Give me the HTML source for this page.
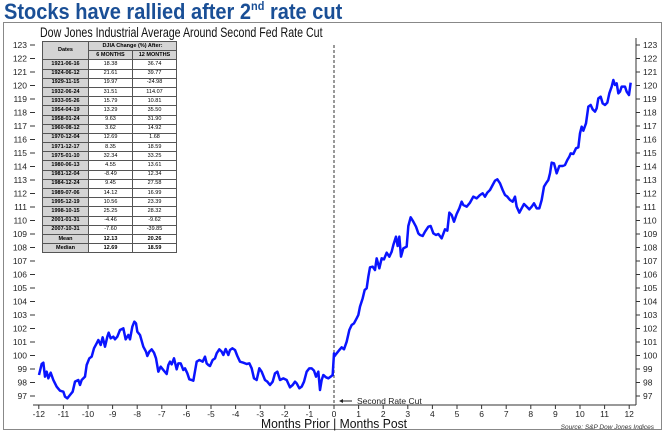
<!DOCTYPE html>
<html><head><meta charset="utf-8"><style>
body{margin:0;width:666px;height:433px;background:#fff;overflow:hidden;font-family:"Liberation Sans",sans-serif;position:relative}
.t{position:absolute;left:4px;top:-1px;font-size:22px;font-weight:bold;color:#1a4f96;white-space:nowrap;transform:scaleX(0.91);transform-origin:0 0}
.t sup{font-size:12px;vertical-align:9px}
.box{position:absolute;left:3px;top:22px;width:657px;height:406px;border:1px solid #888}
.st{position:absolute;left:40px;top:24px;font-size:14px;color:#111;white-space:nowrap;transform:scaleX(0.76);transform-origin:0 0}
table{position:absolute;left:42px;top:41px;border-collapse:collapse;font-size:5.5px;font-weight:bold;background:#fff}
td{border:1px solid #555;height:8.2px;padding:0;text-align:center;line-height:7px;font-weight:normal}
td.d{background:#d4d4d4;font-weight:bold;width:45px}
td.h{background:#d4d4d4;font-weight:bold}
td.v{width:43px}
tr.b td{font-weight:bold}
</style></head><body>
<div class="t">Stocks have rallied after 2<sup>nd</sup> rate cut</div>
<div class="box"></div>
<div class="st">Dow Jones Industrial Average Around Second Fed Rate Cut</div>
<svg width="666" height="433" style="position:absolute;left:0;top:0" font-family="Liberation Sans, sans-serif">
<g stroke="#333" stroke-width="1">
<line x1="636" y1="38" x2="636" y2="405"/>
<line x1="33" y1="405" x2="636" y2="405"/>
<line x1="334" y1="45" x2="334" y2="405" stroke-dasharray="3,2"/>
</g>
<g id="ticks" stroke="#333" stroke-width="1"></g>
<g id="labs" font-size="8.5" fill="#222"></g>
<g transform="translate(30,300) scale(0.33333)" fill="none" stroke="#0a14ff" stroke-width="7.5" stroke-linejoin="round">
<polyline points="27,225 35,192 40,188 45,230 50,215 55,235 62,218 70,240 80,260 90,272 100,275 105,290 112,295 120,285 128,275 135,245 145,240 150,255 155,240 165,230 170,195 178,175 185,170 192,145 200,130 205,120 212,135 218,112 225,140 232,110 236,98 242,115 250,110 255,118 262,110 270,90 280,85 287,118 295,105 300,118 307,80 313,65 318,70 322,95 330,105 340,140 348,155 352,168 358,155 365,148 372,158 378,175 385,215 392,200 400,210 410,222 415,195 420,185 425,193 432,175 440,208 445,190 452,190 460,210 465,205 472,220 478,238 485,240 490,242 500,185 508,180 518,185 525,170 530,190 535,195 540,198 548,180 555,175 560,160 568,148 575,155 580,165 587,147 595,165 600,150 607,145 615,150 622,168 630,185 640,188 650,192 658,190 665,205 672,235 680,240 688,205 695,215 705,240 712,245 720,255 728,245 735,220 742,215 750,240 760,235 770,240 780,262 788,255 795,245 800,250 808,265 815,260 822,245 830,215 838,205 845,205 852,212 858,230 865,215 870,270 875,240 880,225 888,232 895,235 902,230 908,225 912,160 915,170"/>
</g>
<g transform="translate(330,60) scale(0.33333)" fill="none" stroke="#0a14ff" stroke-width="7.5" stroke-linejoin="round">
<polyline points="12,890 20,880 28,870 35,862 42,868 50,845 58,810 65,795 72,790 80,775 85,765 90,740 98,715 104,690 110,685 115,650 120,622 128,620 135,630 140,595 148,625 155,595 162,598 170,578 178,590 185,575 190,555 198,530 203,558 208,530 213,590 220,565 230,560 235,498 242,472 250,485 258,500 265,520 270,525 278,528 285,515 295,500 302,498 310,520 318,525 325,522 335,535 345,508 352,512 358,458 365,465 372,485 380,462 388,445 395,425 400,435 410,440 420,428 430,410 440,415 450,405 458,400 465,410 472,398 480,390 488,375 495,362 502,358 510,370 518,390 525,405 532,410 540,420 548,425 555,410 560,440 568,458 575,445 582,432 590,440 598,448 605,440 612,430 620,445 628,445 635,420 642,380 648,370 655,360 660,340 665,308 672,310 680,340 688,318 698,318 705,315 712,300 718,290 722,280 730,282 738,265 745,262 750,220 755,200 760,212 768,190 775,140 782,135 788,148 795,155 800,145 805,115 812,110 818,130 825,135 832,128 838,100 845,80 850,60 855,75 860,70 865,100 870,95 875,80 885,80 890,95 897,105 902,68"/>
</g>
<line x1="341" y1="401" x2="352" y2="401" stroke="#222" stroke-width="1"/>
<polygon points="339,401 343,399 343,403" fill="#222"/>
<text x="357" y="404" font-size="8.5" fill="#222">Second Rate Cut</text>
<text x="334" y="428" font-size="13" fill="#111" text-anchor="middle" textLength="146" lengthAdjust="spacingAndGlyphs">Months Prior | Months Post</text>
<text x="654" y="429" font-size="6.5" fill="#333" font-style="italic" text-anchor="end">Source: S&amp;P Dow Jones Indices</text>
</svg>
<table>
<tr><td class="d" rowspan="2">Dates</td><td class="h" colspan="2">DJIA Change (%) After:</td></tr>
<tr><td class="h">6 MONTHS</td><td class="h">12 MONTHS</td></tr>
<tr><td class="d">1921-06-16</td><td class="v">18.38</td><td class="v">36.74</td></tr>
<tr><td class="d">1924-06-12</td><td>21.61</td><td>39.77</td></tr>
<tr><td class="d">1929-11-15</td><td>19.97</td><td>-24.98</td></tr>
<tr><td class="d">1932-06-24</td><td>31.51</td><td>114.07</td></tr>
<tr><td class="d">1933-05-26</td><td>15.79</td><td>10.81</td></tr>
<tr><td class="d">1954-04-19</td><td>13.29</td><td>35.50</td></tr>
<tr><td class="d">1958-01-24</td><td>9.63</td><td>31.90</td></tr>
<tr><td class="d">1960-08-12</td><td>3.62</td><td>14.92</td></tr>
<tr><td class="d">1970-12-04</td><td>12.69</td><td>1.68</td></tr>
<tr><td class="d">1971-12-17</td><td>8.35</td><td>18.59</td></tr>
<tr><td class="d">1975-01-10</td><td>32.34</td><td>33.25</td></tr>
<tr><td class="d">1980-06-13</td><td>4.55</td><td>13.61</td></tr>
<tr><td class="d">1981-12-04</td><td>-8.49</td><td>12.34</td></tr>
<tr><td class="d">1984-12-24</td><td>9.45</td><td>27.58</td></tr>
<tr><td class="d">1989-07-06</td><td>14.12</td><td>16.99</td></tr>
<tr><td class="d">1995-12-19</td><td>10.56</td><td>23.39</td></tr>
<tr><td class="d">1998-10-15</td><td>25.25</td><td>28.32</td></tr>
<tr><td class="d">2001-01-31</td><td>-4.46</td><td>-9.62</td></tr>
<tr><td class="d">2007-10-31</td><td>-7.60</td><td>-39.85</td></tr>
<tr class="b"><td class="d">Mean</td><td>12.13</td><td>20.26</td></tr>
<tr class="b"><td class="d">Median</td><td>12.69</td><td>18.59</td></tr>
</table>
<script>
var ns="http://www.w3.org/2000/svg",T=document.getElementById('ticks'),L=document.getElementById('labs');
function el(p,n,a,t){var e=document.createElementNS(ns,n);for(var k in a)e.setAttribute(k,a[k]);if(t!=null)e.textContent=t;p.appendChild(e);}
for(var v=97;v<=123;v++){var y=45+(123-v)*13.5;
el(T,'line',{x1:30,y1:y,x2:35,y2:y});el(T,'line',{x1:636,y1:y,x2:640,y2:y});
el(L,'text',{x:27,y:y+3,'text-anchor':'end'},v);el(L,'text',{x:643,y:y+3},v);}
for(var m=-12;m<=12;m++){var x=334+m*24.6;el(T,'line',{x1:x,y1:405,x2:x,y2:409});
el(L,'text',{x:x,y:417,'text-anchor':'middle'},m);}
</script>
</body></html>
